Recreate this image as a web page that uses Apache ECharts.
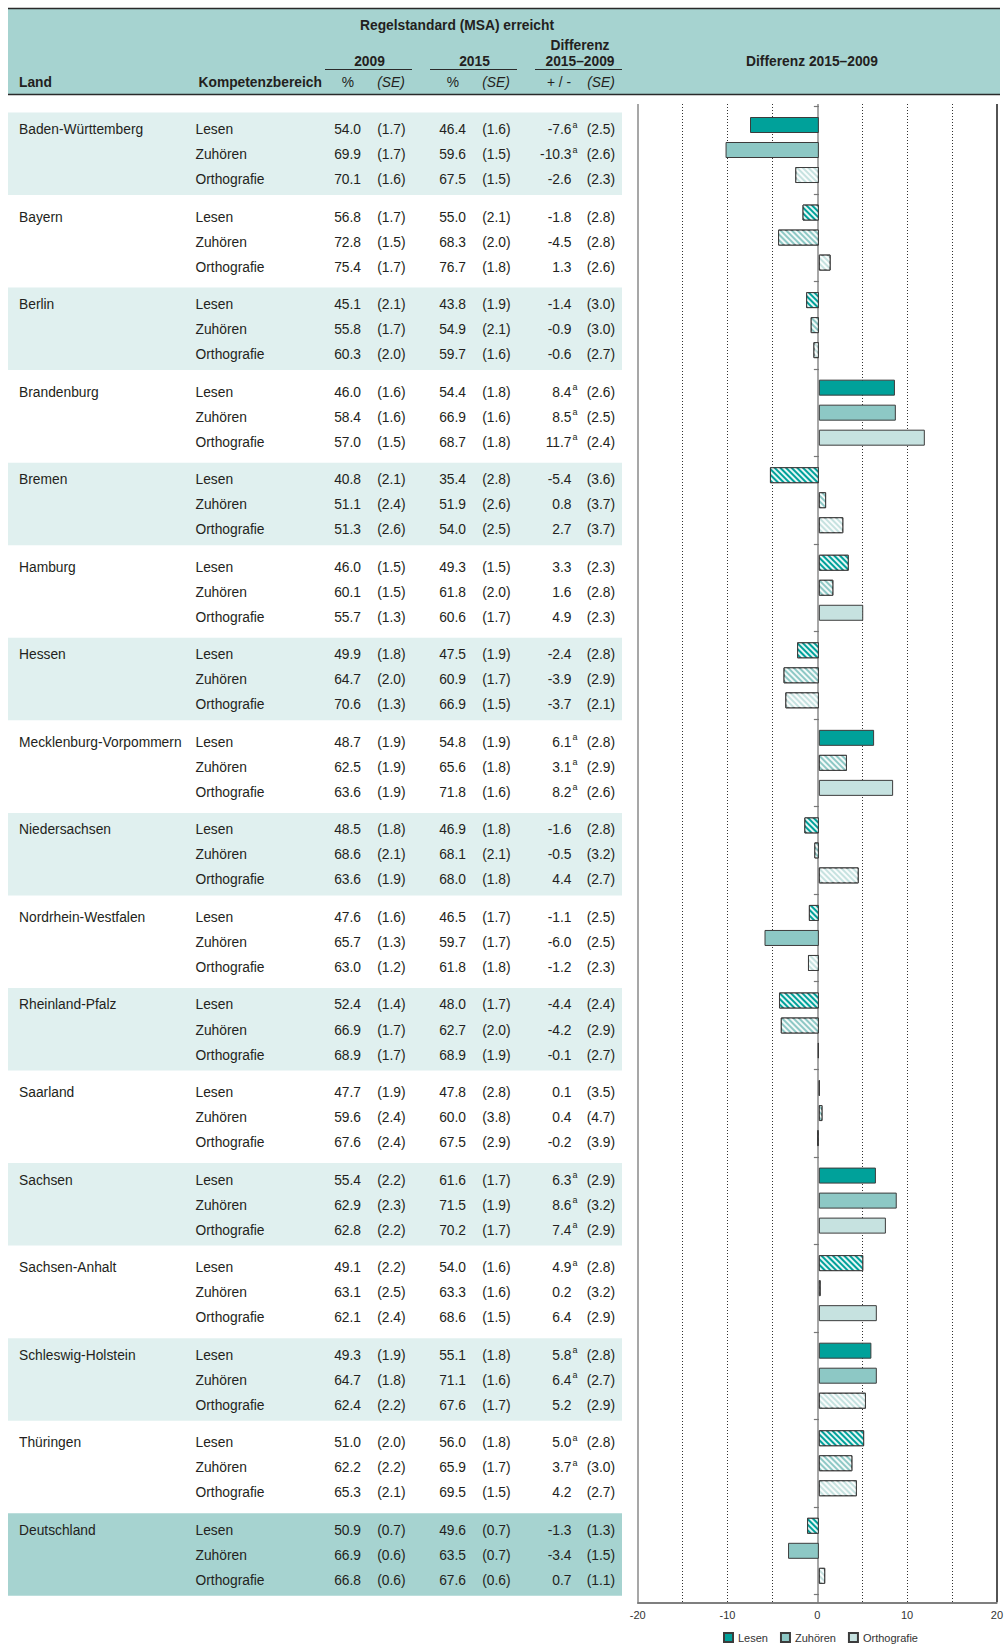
<!DOCTYPE html>
<html><head><meta charset="utf-8">
<script src="https://cdn.jsdelivr.net/npm/echarts@6/dist/echarts.min.js"></script>
<style>html,body{margin:0;padding:0;background:#fff}#c{width:1006px;height:1644px}</style>
</head><body><div id="c"></div>
<script>
// ---------------- data ----------------
const laender = ['Baden-Württemberg','Bayern','Berlin','Brandenburg','Bremen','Hamburg','Hessen',
  'Mecklenburg-Vorpommern','Niedersachsen','Nordrhein-Westfalen','Rheinland-Pfalz','Saarland',
  'Sachsen','Sachsen-Anhalt','Schleswig-Holstein','Thüringen','Deutschland'];
const bereiche = ['Lesen','Zuhören','Orthografie'];
// each row: [Lesen, Zuhören, Orthografie]
const pct2009 = [[54.0,69.9,70.1],[56.8,72.8,75.4],[45.1,55.8,60.3],[46.0,58.4,57.0],[40.8,51.1,51.3],
  [46.0,60.1,55.7],[49.9,64.7,70.6],[48.7,62.5,63.6],[48.5,68.6,63.6],[47.6,65.7,63.0],[52.4,66.9,68.9],
  [47.7,59.6,67.6],[55.4,62.9,62.8],[49.1,63.1,62.1],[49.3,64.7,62.4],[51.0,62.2,65.3],[50.9,66.9,66.8]];
const se2009 = [[1.7,1.7,1.6],[1.7,1.5,1.7],[2.1,1.7,2.0],[1.6,1.6,1.5],[2.1,2.4,2.6],
  [1.5,1.5,1.3],[1.8,2.0,1.3],[1.9,1.9,1.9],[1.8,2.1,1.9],[1.6,1.3,1.2],[1.4,1.7,1.7],
  [1.9,2.4,2.4],[2.2,2.3,2.2],[2.2,2.5,2.4],[1.9,1.8,2.2],[2.0,2.2,2.1],[0.7,0.6,0.6]];
const pct2015 = [[46.4,59.6,67.5],[55.0,68.3,76.7],[43.8,54.9,59.7],[54.4,66.9,68.7],[35.4,51.9,54.0],
  [49.3,61.8,60.6],[47.5,60.9,66.9],[54.8,65.6,71.8],[46.9,68.1,68.0],[46.5,59.7,61.8],[48.0,62.7,68.9],
  [47.8,60.0,67.5],[61.6,71.5,70.2],[54.0,63.3,68.6],[55.1,71.1,67.6],[56.0,65.9,69.5],[49.6,63.5,67.6]];
const se2015 = [[1.6,1.5,1.5],[2.1,2.0,1.8],[1.9,2.1,1.6],[1.8,1.6,1.8],[2.8,2.6,2.5],
  [1.5,2.0,1.7],[1.9,1.7,1.5],[1.9,1.8,1.6],[1.8,2.1,1.8],[1.7,1.7,1.8],[1.7,2.0,1.9],
  [2.8,3.8,2.9],[1.7,1.9,1.7],[1.6,1.6,1.5],[1.8,1.6,1.7],[1.8,1.7,1.5],[0.7,0.7,0.6]];
const diff = [[-7.6,-10.3,-2.6],[-1.8,-4.5,1.3],[-1.4,-0.9,-0.6],[8.4,8.5,11.7],[-5.4,0.8,2.7],
  [3.3,1.6,4.9],[-2.4,-3.9,-3.7],[6.1,3.1,8.2],[-1.6,-0.5,4.4],[-1.1,-6.0,-1.2],[-4.4,-4.2,-0.1],
  [0.1,0.4,-0.2],[6.3,8.6,7.4],[4.9,0.2,6.4],[5.8,6.4,5.2],[5.0,3.7,4.2],[-1.3,-3.4,0.7]];
const seDiff = [[2.5,2.6,2.3],[2.8,2.8,2.6],[3.0,3.0,2.7],[2.6,2.5,2.4],[3.6,3.7,3.7],
  [2.3,2.8,2.3],[2.8,2.9,2.1],[2.8,2.9,2.6],[2.8,3.2,2.7],[2.5,2.5,2.3],[2.4,2.9,2.7],
  [3.5,4.7,3.9],[2.9,3.2,2.9],[2.8,3.2,2.9],[2.8,2.7,2.9],[2.8,3.0,2.7],[1.3,1.5,1.1]];
// superscript "a"
const sigA = [[1,1,0],[0,0,0],[0,0,0],[1,1,1],[0,0,0],[0,0,0],[0,0,0],[1,1,1],[0,0,0],[0,0,0],
  [0,0,0],[0,0,0],[1,1,1],[1,0,0],[1,1,0],[1,1,0],[0,0,0]];
// bar drawn solid (1) or hatched (0)
const solid = [[1,1,0],[0,0,0],[0,0,0],[1,1,1],[0,0,0],[0,0,1],[0,0,0],[1,0,1],[0,0,0],[0,1,0],
  [0,0,0],[0,0,0],[1,1,1],[0,0,1],[1,1,0],[0,0,0],[0,1,0]];
const xTickLabels = [-20,-10,0,10,20];

// ---------------- layout / style ----------------
const FONT = "'Liberation Sans', Arial, Helvetica, sans-serif";
const FS = 13.8;
const TXT = '#231f20';
const colors = ['#00a19a','#8dc8c5','#c6e2e0'];
const HEAD_BG = '#a6d3d0', BAND_BG = '#e0f0ef';
const H = 12.507;              // half row height
const T = 106.24;              // top of bar grid
const SLOTS = 7;               // half-rows per Land block
const N = laender.length * SLOTS;
const cats = Array.from({length:N}, (_,i)=>String(i));
const slot = (i,j) => SLOTS*i + 1 + 2*j;
const hatch = {symbol:'rect', symbolSize:1, dashArrayX:[1,0], dashArrayY:[1.3,2], rotation:Math.PI/4, color:'rgba(255,255,255,0.9)'};

const series = bereiche.map((b,j)=>{
  const arr = new Array(N).fill(null);
  laender.forEach((l,i)=>{
    arr[slot(i,j)] = solid[i][j] ? {value:diff[i][j]} : {value:diff[i][j], itemStyle:{decal:hatch}};
  });
  return {type:'bar', name:b, xAxisIndex:0, yAxisIndex:0, data:arr, barWidth:16, barGap:'-100%',
    silent:true, itemStyle:{color:colors[j], borderColor:'#3c3c3c', borderWidth:1}};
});
const xMin = xTickLabels[0], xMax = xTickLabels[xTickLabels.length-1];
const xStep = xTickLabels[1]-xTickLabels[0];

const chart = echarts.init(document.getElementById('c'), null, {renderer:'svg', width:1006, height:1644});
chart.setOption({
  animation:false,
  textStyle:{fontFamily:FONT},
  grid:[
    {left:637.7, right:6, top:T, height:N*H},
    {left:637.7, right:6, top:104, bottom:41.7}
  ],
  xAxis:[
    {gridIndex:0, type:'value', min:xMin, max:xMax, show:false},
    {gridIndex:1, type:'value', min:xMin, max:xMax, interval:xStep, position:'bottom',
      axisLine:{show:true, onZero:false, lineStyle:{color:'#555', width:1.5}},
      axisTick:{show:false},
      axisLabel:{color:'#333', fontSize:11, margin:7, fontFamily:FONT},
      splitLine:{show:true, lineStyle:{color:['#8a8a8a','rgba(0,0,0,0)','#8a8a8a','rgba(0,0,0,0)','#1a1a1a'], width:1.5}}},
    {gridIndex:1, type:'value', min:xMin, max:xMax, interval:xStep/2, position:'top',
      axisLine:{show:false}, axisTick:{show:false}, axisLabel:{show:false},
      splitLine:{show:true, lineStyle:{type:[1,2], width:1,
        color:['rgba(0,0,0,0)','#333','#333','#333','rgba(0,0,0,0)','#333','#333','#333','rgba(0,0,0,0)']}}}
  ],
  yAxis:[
    {gridIndex:0, type:'category', data:cats, inverse:true,
      axisLine:{show:true, onZero:true, lineStyle:{opacity:0}},
      axisTick:{show:true, length:5, interval:(i)=> i % SLOTS === 0, lineStyle:{color:'#777', width:1.2}},
      axisLabel:{show:false}, splitLine:{show:false}},
    {gridIndex:1, type:'value', min:0, max:1, show:false}
  ],
  legend:{data:bereiche, left:723, top:1632, padding:0, itemWidth:9, itemHeight:9, itemGap:12, icon:'rect',
    textStyle:{fontSize:11, color:'#333', fontFamily:FONT}},
  series:series
});

// ---------------- table (text & bands) ----------------
const barY = k => chart.convertToPixel({yAxisIndex:0}, k);
function txt(x, y, s, o) {
  o = o || {};
  const font = (o.italic?'italic ':'') + (o.bold?'bold ':'') + (o.size||FS) + 'px ' + FONT;
  const al = o.align || 'left';
  return {type:'text', x:x, y:y, silent:true, z:20,
    style:{text:s, fill:TXT, font:font, align:al, textAlign:al, verticalAlign:'middle', textVerticalAlign:'middle'}};
}
function line(x1,y1,x2,y2,c,w){ return {type:'line', silent:true, z:15, shape:{x1,y1,x2,y2}, style:{stroke:c, lineWidth:w}}; }
const g = [];
// header
g.push({type:'rect', silent:true, z:1, shape:{x:8, y:8.5, width:992, height:86}, style:{fill:HEAD_BG}});
g.push(line(8,8.5,1000,8.5,'#2a2a2a',1.5));
g.push(line(8,94.5,1000,94.5,'#2a2a2a',1.5));
g.push(txt(457,25,'Regelstandard (MSA) erreicht',{bold:1,align:'center'}));
g.push(txt(580,45,'Differenz',{bold:1,align:'center'}));
g.push(txt(369.5,61,'2009',{bold:1,align:'center'}));
g.push(txt(474.5,61,'2015',{bold:1,align:'center'}));
g.push(txt(580,61,'2015–2009',{bold:1,align:'center'}));
g.push(line(325,69.5,412,69.5,'#2a2a2a',1));
g.push(line(430,69.5,517,69.5,'#2a2a2a',1));
g.push(line(535,69.5,622,69.5,'#2a2a2a',1));
g.push(txt(19,82,'Land',{bold:1}));
g.push(txt(198.5,82,'Kompetenzbereich',{bold:1}));
g.push(txt(348,82,'%',{align:'center'}));
g.push(txt(391,82,'(SE)',{align:'center',italic:1}));
g.push(txt(453,82,'%',{align:'center'}));
g.push(txt(496,82,'(SE)',{align:'center',italic:1}));
g.push(txt(559,82,'+ / -',{align:'center'}));
g.push(txt(601,82,'(SE)',{align:'center',italic:1}));
g.push(txt(812,61,'Differenz 2015–2009',{bold:1,align:'center'}));

const f1 = v => v.toFixed(1);
laender.forEach((land,i)=>{
  const yL = barY(slot(i,0));
  if (i === laender.length-1 || i % 2 === 0) {
    g.push({type:'rect', silent:true, z:1, shape:{x:8, y:yL-12.5, width:614, height:82.5},
      style:{fill: i === laender.length-1 ? HEAD_BG : BAND_BG}});
  }
  bereiche.forEach((b,j)=>{
    const y = barY(slot(i,j)) + 4.5;
    if (j === 0) g.push(txt(19,y,land));
    g.push(txt(195.5,y,b));
    g.push(txt(361,y,f1(pct2009[i][j]),{align:'right'}));
    g.push(txt(405.5,y,'('+f1(se2009[i][j])+')',{align:'right'}));
    g.push(txt(466,y,f1(pct2015[i][j]),{align:'right'}));
    g.push(txt(510.5,y,'('+f1(se2015[i][j])+')',{align:'right'}));
    g.push(txt(571.5,y,f1(diff[i][j]),{align:'right'}));
    if (sigA[i][j]) g.push(txt(572.5,y-5,'a',{size:9}));
    g.push(txt(615,y,'('+f1(seDiff[i][j])+')',{align:'right'}));
  });
});
chart.setOption({graphic:{elements:g}});
</script></body></html>
